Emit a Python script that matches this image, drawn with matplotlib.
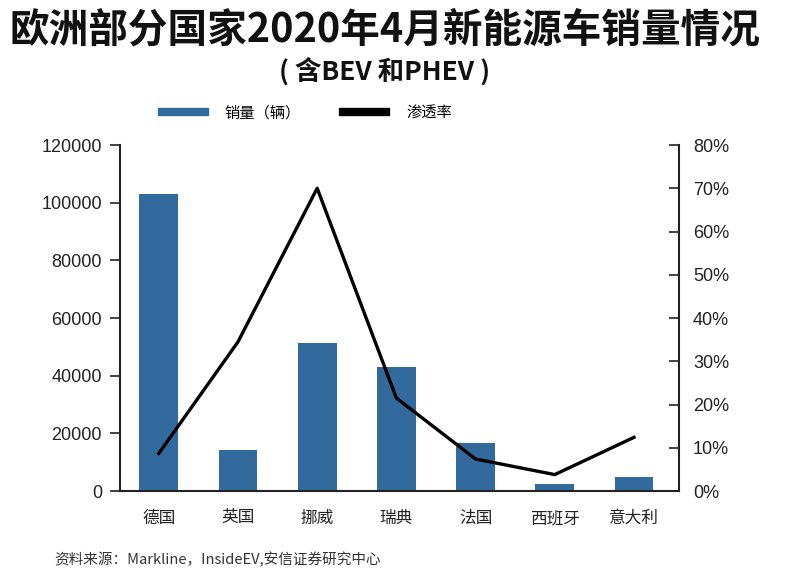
import numpy as np
import matplotlib
matplotlib.use('Agg')
import matplotlib.pyplot as plt
from matplotlib.lines import Line2D
import matplotlib.ticker as ticker

plt.rcParams['font.family'] = ['Liberation Sans', 'Noto Sans CJK SC', 'DejaVu Sans']

# data
countries = ['德国', '英国', '挪威', '瑞典', '法国', '西班牙', '意大利']
sales = [103000, 14200, 51400, 42900, 16700, 2400, 4900]       # 销量（辆）
penetration = [0.087, 0.345, 0.70, 0.215, 0.074, 0.038, 0.124]  # 渗透率

bar_color = '#336a9e'
x = np.arange(len(countries))

fig = plt.figure(figsize=(7.97, 5.80), dpi=100)
ax = fig.add_axes([0.1506, 0.1534, 0.7014, 0.5966])

ax.bar(x, sales, width=0.49, color=bar_color, zorder=2)
ax.set_ylim(0, 120000)
ax.set_xlim(-0.49, 6.57)
ax.yaxis.set_major_locator(ticker.MultipleLocator(20000))
ax.set_xticks(x)
ax.set_xticklabels(countries, fontsize=12, color='#222222')
ax.tick_params(axis='x', length=0, pad=14)
ax.tick_params(axis='y', direction='out', length=7, width=1.2, labelsize=13,
               colors='#222222', pad=6)
for s in ['top', 'right']:
    ax.spines[s].set_visible(False)
for s in ['left', 'bottom']:
    ax.spines[s].set_linewidth(1.5)
    ax.spines[s].set_color('#222222')

ax2 = ax.twinx()
ax2.plot(x, penetration, color='black', linewidth=2.4, zorder=3)
ax2.set_ylim(0, 0.8)
ax2.yaxis.set_major_locator(ticker.MultipleLocator(0.1))
ax2.yaxis.set_major_formatter(ticker.FuncFormatter(lambda v, p: f'{v*100:.0f}%'))
ax2.tick_params(axis='y', direction='in', length=7, width=1.2, labelsize=13,
                colors='#222222', pad=10)
for s in ['top', 'left', 'bottom']:
    ax2.spines[s].set_visible(False)
ax2.spines['right'].set_linewidth(1.5)
ax2.spines['right'].set_color('#222222')

fig.text(0.012, 0.948, '欧洲部分国家2020年4月新能源车销量情况', fontsize=28.5,
         fontweight='bold', ha='left', va='center', color='#111111',
         family=['Noto Sans CJK SC', 'DejaVu Sans'])
fig.text(0.483, 0.876, '( 含BEV 和PHEV )', fontsize=19, fontweight='bold',
         ha='center', va='center', color='#111111',
         family=['Noto Sans CJK SC', 'DejaVu Sans'])

handles = [Line2D([0], [0], color=bar_color, linewidth=6),
           Line2D([0], [0], color='black', linewidth=6)]
fig.legend(handles, ['销量（辆）', '渗透率'], loc='center', ncol=2,
           bbox_to_anchor=(0.385, 0.805), frameon=False,
           handlelength=2.8, columnspacing=2.8, handletextpad=1.3,
           prop={'family': ['Noto Sans CJK SC'], 'size': 11})

fig.text(0.068, 0.035, '资料来源：Markline，InsideEV,安信证券研究中心', fontsize=10.5,
         ha='left', va='center', color='#333333',
         family=['Noto Sans CJK SC', 'DejaVu Sans'])

fig.savefig('out.png', dpi=100)
